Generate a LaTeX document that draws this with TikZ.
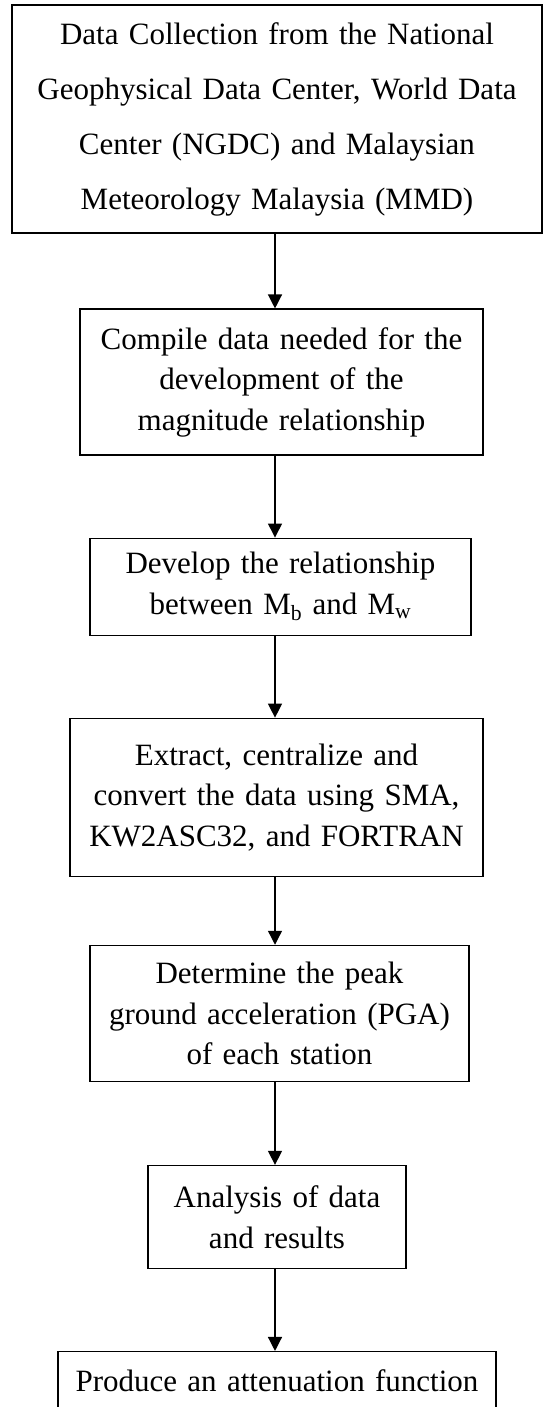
\documentclass[tikz,border=0pt]{standalone}
\usepackage{fontspec}
\setmainfont{Liberation Serif}
\usetikzlibrary{positioning, arrows.meta}

\begin{document}
\begin{tikzpicture}[x=1pt, y=1pt, node distance={82pt}, line width=1.3pt,
    stage/.style = {draw, rectangle, inner sep=0pt, align=center, font=\fontsize{31}{40.5}\selectfont},
    flow/.style = {-{Triangle[length=14pt, width=14pt]}}]
		\useasboundingbox (0,0) rectangle (544,-1407);
		\node[stage, text width=530pt, minimum height=228pt, font=\fontsize{31}{55}\selectfont] (collect) at (277,-119) {Data Collection from the National\\Geophysical Data Center, World Data\\Center (NGDC) and Malaysian\\Meteorology Malaysia (MMD)};
		\node[stage, text width=403pt, minimum height=146pt] (compile) [below=74.8pt of collect, xshift=4.5pt] {Compile data needed for the\\development of the\\magnitude relationship};
		\node[stage, text width=381pt, minimum height=97pt] (develop) [below=81.8pt of compile, xshift=-1pt] {Develop the relationship\\between M\textsubscript{b} and M\textsubscript{w}};
		\node[stage, text width=413pt, minimum height=158pt] (extract) [below=81.8pt of develop, xshift=-4pt] {Extract, centralize and\\convert the data using SMA,\\KW2ASC32, and FORTRAN};
		\node[stage, text width=379pt, minimum height=136pt] (pga) [below=67.8pt of extract, xshift=3pt] {Determine the peak\\ground acceleration (PGA)\\of each station};
		\node[stage, text width=258pt, minimum height=103pt] (analysis) [below=82.8pt of pga, xshift=-2.5pt] {Analysis of data\\and results};
		\node[stage, text width=438pt, text height=40pt, text depth=36pt] (attenuation) [below=81.8pt of analysis] {Produce an attenuation function};
		\coordinate (axis) at (275,0);
		\draw[flow] (collect.south -| axis) -- (compile.north -| axis);
		\draw[flow] (compile.south -| axis) -- (develop.north -| axis);
		\draw[flow] (develop.south -| axis) -- (extract.north -| axis);
		\draw[flow] (extract.south -| axis) -- (pga.north -| axis);
		\draw[flow] (pga.south -| axis) -- (analysis.north -| axis);
		\draw[flow] (analysis.south -| axis) -- (attenuation.north -| axis);
	\end{tikzpicture}
\end{document}
